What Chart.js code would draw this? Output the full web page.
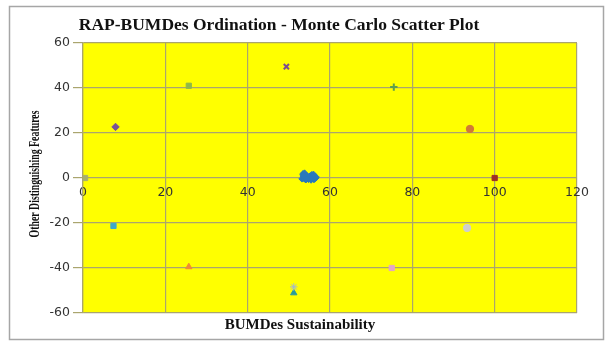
<!DOCTYPE html>
<html>
<head>
<meta charset="utf-8">
<script src="https://cdn.jsdelivr.net/npm/chart.js@4.4.1/dist/chart.umd.min.js"></script>
<style>
  html, body { margin: 0; padding: 0; background: #fff; }
  #wrap { width: 615px; height: 350px; position: relative; }
</style>
</head>
<body>
<div id="wrap"><canvas id="chart" width="615" height="350"></canvas></div>
<script>
// Monte Carlo cluster (blue)
const mcX = [53.4, 53.6, 53.2, 53.9, 54.1, 53.7, 54.4, 54.8, 55.2, 55.6, 55.9, 56.3, 56.6, 55.4, 54.9, 54.3, 55.8, 56.1, 56.5, 55.1, 53.8, 54.6, 55.5, 56.0, 53.5, 54.2];
const mcY = [1.8, 0.6, -0.4, 1.2, -0.8, -0.2, 0.3, -0.6, 0.9, 1.5, 0.4, -0.3, 0.1, -0.9, 0.7, 1.0, 1.1, -0.7, 0.6, 0.2, 2.2, -0.1, 0.5, 1.6, 1.0, -0.5];

// reference / anchor points
const refNames = ['Bad', 'Good', 'Up', 'Down', 'Ref 1', 'Ref 2', 'Ref 3', 'Ref 4', 'Ref 5', 'Ref 6', 'Ref 7', 'Ref 8', 'Ref 9'];
const refX = [0.5, 100, 49.4, 51.2, 7.9, 7.4, 25.7, 25.7, 75.5, 75, 94, 93.3, 51.2];
const refY = [0, 0, 49.5, -48.4, 22.7, -21.3, 41, -39.5, 40.4, -40, 21.8, -22.2, -51.1];
const refColors = ['#a6b070', '#9e2e26', '#7d4f8e', '#9fb6d6', '#7a5296', '#3fa8c8', '#8fb84a', '#f08a34', '#5e9e4e', '#e3a6c6', '#d17a36', '#cfcfcf', '#2b9c9a'];
const refStyles = ['rect', 'rect', 'crossRot', 'star', 'rectRot', 'rect', 'rect', 'triangle', 'cross', 'rect', 'circle', 'circle', 'triangle'];

const xTicks = [0, 20, 40, 60, 80, 100, 120];
const yTicks = [-60, -40, -20, 0, 20, 40, 60];

const chartTitle = 'RAP-BUMDes Ordination - Monte Carlo Scatter Plot';
const xTitle = 'BUMDes Sustainability';
const yTitle = 'Other Distinguishing Features';

const gridColor = '#aaa56e';

const datasets = [{
  label: 'Monte Carlo',
  data: mcX.map((x, i) => ({ x: x, y: mcY[i] })),
  backgroundColor: '#2a78bb',
  borderColor: '#2a78bb',
  pointStyle: 'rectRot',
  pointRadius: 3.2,
  borderWidth: 1
}];
refNames.forEach((name, i) => {
  datasets.push({
    label: name,
    data: [{ x: refX[i], y: refY[i] }],
    backgroundColor: refColors[i],
    borderColor: refColors[i],
    pointStyle: refStyles[i],
    pointRadius: 3.7,
    borderWidth: refStyles[i] === 'cross' || refStyles[i] === 'crossRot' ? 2 : 1
  });
});

const frame = {
  id: 'frame',
  beforeDraw(chart) {
    const { ctx, chartArea: a } = chart;
    ctx.save();
    ctx.fillStyle = '#ffff00';
    ctx.fillRect(a.left, a.top, a.right - a.left, a.bottom - a.top);
    ctx.strokeStyle = '#a6a6a6';
    ctx.lineWidth = 1.5;
    ctx.strokeRect(9.5, 6.5, 594, 333);
    ctx.restore();
  },
  afterDraw(chart) {
    const { ctx } = chart;
    ctx.save();
    ctx.fillStyle = '#111';
    ctx.textAlign = 'center';
    ctx.textBaseline = 'middle';
    // chart title
    ctx.font = 'bold 17.5px "Liberation Serif"';
    ctx.fillText(chartTitle, 279, 25);
    // x axis title
    ctx.font = 'bold 15px "Liberation Serif"';
    ctx.fillText(xTitle, 300, 325);
    // y axis title, condensed
    ctx.font = 'bold 15.5px "Liberation Serif"';
    const w = ctx.measureText(yTitle).width;
    ctx.translate(35, 174);
    ctx.rotate(-Math.PI / 2);
    ctx.scale(127 / w, 1);
    ctx.fillText(yTitle, 0, 0);
    ctx.restore();
  }
};

new Chart(document.getElementById('chart'), {
  type: 'scatter',
  data: { datasets: datasets },
  plugins: [frame],
  options: {
    responsive: false,
    animation: false,
    layout: { padding: { left: 0, right: 38, top: 43, bottom: 37 } },
    plugins: {
      legend: { display: false },
      tooltip: { enabled: false },
      title: { display: false }
    },
    scales: {
      x: {
        type: 'linear',
        position: { y: 0 },
        min: 0,
        max: 120,
        afterBuildTicks(scale) { scale.ticks = xTicks.map(v => ({ value: v })); },
        ticks: { color: '#333', font: { family: '"DejaVu Sans"', size: 12.5 }, padding: 7 },
        grid: { color: gridColor, lineWidth: 1.2, tickLength: 0 },
        border: { display: false }
      },
      y: {
        type: 'linear',
        min: -60,
        max: 60,
        afterBuildTicks(scale) { scale.ticks = yTicks.map(v => ({ value: v })); },
        afterFit(scale) { scale.width = 83; },
        ticks: { color: '#333', font: { family: '"DejaVu Sans"', size: 12.5 }, padding: 3 },
        grid: { color: gridColor, lineWidth: 1.2, tickLength: 10 },
        border: { color: gridColor, width: 1.2 }
      }
    }
  }
});
</script>
</body>
</html>
